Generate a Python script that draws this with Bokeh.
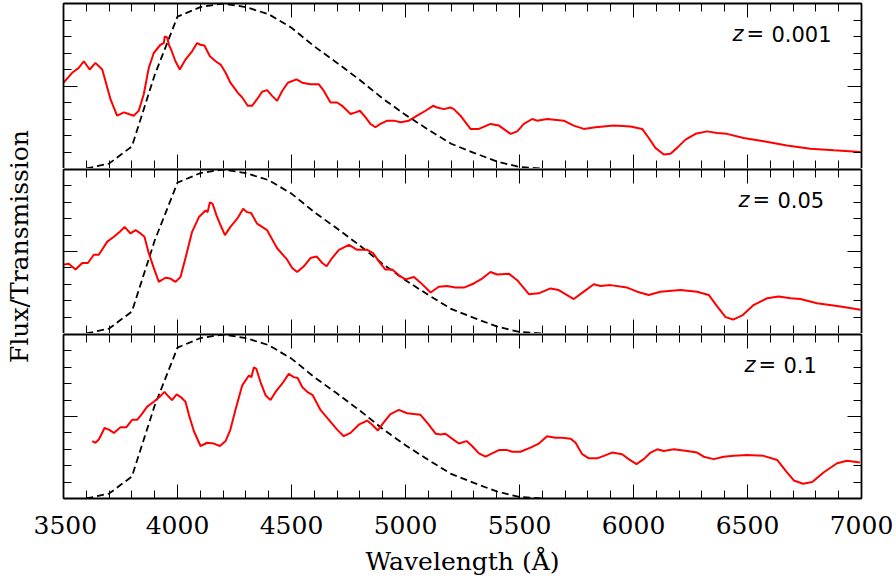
from bokeh.plotting import figure
from bokeh.models import Range1d, LinearAxis, SingleIntervalTicker
from bokeh.layouts import column, row
from bokeh.embed import file_html
from bokeh.resources import INLINE
from bokeh.core.properties import value

# ---- filter transmission (B band) ----
filter_wave = [3600, 3700, 3800, 3900, 4000, 4100, 4200, 4300, 4400, 4500, 4600,
               4700, 4800, 4900, 5000, 5100, 5200, 5300, 5400, 5500, 5600]
filter_trans = [0.0, 0.03, 0.134, 0.567, 0.92, 0.978, 1.0, 0.978, 0.935, 0.853, 0.74,
                0.64, 0.536, 0.424, 0.325, 0.235, 0.15, 0.095, 0.043, 0.009, 0.0]

# ---- spectrum, z = 0.001 ----
wave_z0001 = [3500, 3538, 3567, 3589, 3615, 3640, 3670, 3684, 3706, 3735,
              3765, 3786, 3808, 3830, 3852, 3874, 3896, 3925, 3940, 3944,
              3955, 3962, 3972, 3991, 4010, 4035, 4064, 4086, 4101, 4118,
              4142, 4167, 4189, 4211, 4232, 4264, 4284, 4308, 4327, 4349,
              4371, 4393, 4415, 4437, 4459, 4484, 4522, 4547, 4583, 4620,
              4642, 4671, 4700, 4722, 4759, 4781, 4800, 4825, 4846, 4868,
              4890, 4920, 4949, 4978, 5015, 5051, 5088, 5121, 5139, 5168,
              5197, 5212, 5241, 5285, 5322, 5373, 5410, 5461, 5490, 5519,
              5556, 5577, 5621, 5694, 5738, 5782, 5833, 5914, 5987, 6038,
              6067, 6096, 6133, 6162, 6191, 6228, 6272, 6323, 6367, 6410,
              6483, 6571, 6673, 6776, 6879, 6996]
flux_z0001 = [0.52, 0.58, 0.61, 0.65, 0.60, 0.64, 0.60, 0.53, 0.42, 0.32,
              0.34, 0.33, 0.32, 0.35, 0.45, 0.61, 0.70, 0.75, 0.76, 0.80,
              0.795, 0.75, 0.72, 0.65, 0.60, 0.66, 0.71, 0.76, 0.75, 0.745,
              0.68, 0.65, 0.63, 0.58, 0.52, 0.46, 0.43, 0.38, 0.38, 0.42,
              0.465, 0.475, 0.44, 0.41, 0.47, 0.52, 0.54, 0.52, 0.51, 0.51,
              0.47, 0.40, 0.40, 0.38, 0.33, 0.34, 0.35, 0.31, 0.27, 0.25,
              0.27, 0.29, 0.29, 0.28, 0.29, 0.32, 0.35, 0.38, 0.37, 0.36,
              0.37, 0.36, 0.32, 0.24, 0.24, 0.27, 0.26, 0.21, 0.225, 0.27,
              0.30, 0.29, 0.30, 0.29, 0.26, 0.24, 0.25, 0.26, 0.255, 0.24,
              0.185, 0.125, 0.085, 0.09, 0.125, 0.175, 0.21, 0.225, 0.215, 0.21,
              0.185, 0.165, 0.14, 0.12, 0.11, 0.10]

# ---- spectrum, z = 0.05 ----
wave_z005 = [3500, 3523, 3553, 3582, 3607, 3633, 3655, 3692, 3721, 3747,
             3768, 3794, 3816, 3838, 3855, 3874, 3896, 3918, 3947, 3969,
             3991, 4013, 4035, 4064, 4094, 4123, 4132, 4142, 4154, 4171,
             4189, 4208, 4232, 4262, 4288, 4305, 4323, 4349, 4371, 4393,
             4437, 4481, 4503, 4525, 4554, 4583, 4610, 4635, 4654, 4678,
             4708, 4752, 4788, 4832, 4858, 4883, 4912, 4942, 4971, 5000,
             5037, 5066, 5110, 5146, 5183, 5219, 5256, 5300, 5336, 5373,
             5402, 5453, 5490, 5541, 5584, 5636, 5672, 5738, 5782, 5826,
             5855, 5899, 5972, 6016, 6067, 6118, 6206, 6279, 6330, 6367,
             6404, 6437, 6477, 6528, 6586, 6637, 6689, 6732, 6805, 6908,
             6996]
flux_z005 = [0.42, 0.425, 0.39, 0.43, 0.43, 0.48, 0.48, 0.56, 0.59, 0.62,
             0.65, 0.61, 0.63, 0.61, 0.59, 0.49, 0.40, 0.315, 0.34, 0.335,
             0.315, 0.345, 0.46, 0.62, 0.71, 0.75, 0.74, 0.80, 0.79, 0.72,
             0.66, 0.60, 0.65, 0.70, 0.76, 0.74, 0.735, 0.67, 0.65, 0.63,
             0.52, 0.45, 0.40, 0.375, 0.41, 0.46, 0.47, 0.43, 0.41, 0.46,
             0.51, 0.54, 0.51, 0.51, 0.49, 0.44, 0.39, 0.39, 0.355, 0.33,
             0.345, 0.31, 0.25, 0.285, 0.29, 0.28, 0.28, 0.305, 0.335, 0.375,
             0.36, 0.365, 0.325, 0.24, 0.245, 0.275, 0.265, 0.21, 0.255, 0.30,
             0.29, 0.295, 0.28, 0.255, 0.235, 0.255, 0.265, 0.255, 0.235, 0.165,
             0.10, 0.085, 0.11, 0.175, 0.215, 0.225, 0.215, 0.21, 0.185, 0.165,
             0.145]

# ---- spectrum, z = 0.1 ----
wave_z01 = [3626, 3640, 3655, 3680, 3699, 3721, 3750, 3776, 3801, 3823,
            3841, 3867, 3896, 3922, 3943, 3962, 3976, 3996, 4013, 4035,
            4050, 4072, 4101, 4130, 4159, 4186, 4211, 4232, 4254, 4284,
            4313, 4324, 4335, 4346, 4364, 4386, 4408, 4430, 4459, 4488,
            4510, 4527, 4547, 4569, 4593, 4627, 4664, 4700, 4729, 4759,
            4795, 4832, 4854, 4879, 4902, 4934, 4971, 5007, 5066, 5102,
            5132, 5154, 5175, 5204, 5234, 5268, 5292, 5322, 5351, 5373,
            5410, 5446, 5468, 5504, 5548, 5585, 5621, 5658, 5687, 5724,
            5746, 5775, 5804, 5840, 5870, 5906, 5950, 5979, 6013, 6045,
            6075, 6104, 6133, 6177, 6235, 6279, 6308, 6352, 6396, 6440,
            6498, 6571, 6630, 6667, 6703, 6744, 6784, 6835, 6893, 6937,
            6993]
flux_z01 = [0.35, 0.34, 0.36, 0.43, 0.42, 0.40, 0.435, 0.435, 0.48, 0.48,
            0.51, 0.56, 0.59, 0.62, 0.65, 0.62, 0.60, 0.635, 0.62, 0.59,
            0.51, 0.41, 0.32, 0.34, 0.335, 0.32, 0.35, 0.42, 0.54, 0.69,
            0.75, 0.74, 0.80, 0.79, 0.71, 0.63, 0.60, 0.65, 0.70, 0.76,
            0.74, 0.735, 0.68, 0.65, 0.63, 0.54, 0.48, 0.42, 0.38, 0.40,
            0.45, 0.475, 0.45, 0.415, 0.46, 0.515, 0.54, 0.52, 0.51, 0.45,
            0.395, 0.39, 0.395, 0.365, 0.335, 0.35, 0.32, 0.275, 0.255, 0.27,
            0.295, 0.295, 0.285, 0.285, 0.31, 0.335, 0.38, 0.37, 0.37, 0.365,
            0.34, 0.27, 0.245, 0.245, 0.26, 0.28, 0.27, 0.24, 0.21, 0.24,
            0.28, 0.30, 0.29, 0.30, 0.29, 0.28, 0.255, 0.24, 0.255, 0.26,
            0.265, 0.26, 0.235, 0.17, 0.11, 0.09, 0.10, 0.16, 0.215, 0.23,
            0.22]

redshift_labels = ["0.001", "0.05", "0.1"]
x_ticks_interval = 500
x_label = "Wavelength (Å)"
y_label = "Flux/Transmission"

SERIF = "DejaVu Serif"
SANS = "DejaVu Sans"
FRAME_LW = 1.8

x_range = Range1d(3500, 7000)


def style_axis(ax, interval, labels=False, rule=True):
    ax.ticker = SingleIntervalTicker(interval=interval, num_minor_ticks=5)
    ax.major_tick_in = 14
    ax.major_tick_out = 0
    ax.minor_tick_in = 8
    ax.minor_tick_out = 0
    ax.major_tick_line_color = "black"
    ax.minor_tick_line_color = "black"
    ax.major_tick_line_width = 1
    ax.minor_tick_line_width = 1
    ax.axis_line_color = "black" if rule else None
    ax.axis_line_width = FRAME_LW
    if labels:
        ax.major_label_text_font = SERIF
        ax.major_label_text_font_size = "25px"
        ax.major_label_text_color = "black"
        ax.major_label_standoff = 17
    else:
        ax.major_label_text_color = None
        ax.major_label_text_alpha = 0
        ax.major_label_text_font_size = "1px"
        ax.major_label_standoff = 0
        ax.axis_label_standoff = 0


def make_panel(wave, flux, zlabel, label_left, frame_h, border_top,
               border_bottom, bottom_labels=False):
    p = figure(frame_width=798, frame_height=frame_h, x_range=x_range,
               y_range=Range1d(0, 1), x_axis_type=None, y_axis_type=None,
               output_backend="svg", toolbar_location=None,
               min_border_left=30, min_border_right=35,
               min_border_top=border_top, min_border_bottom=border_bottom)
    p.background_fill_color = "white"
    p.border_fill_color = "white"
    p.outline_line_color = None

    bottom = LinearAxis()
    style_axis(bottom, x_ticks_interval, labels=bottom_labels,
               rule=bottom_labels)
    if bottom_labels:
        bottom.axis_label = x_label
        bottom.axis_label_text_font = SERIF
        bottom.axis_label_text_font_size = "25px"
        bottom.axis_label_text_font_style = "normal"
        bottom.axis_label_text_color = "black"
        bottom.axis_label_standoff = 10
    top = LinearAxis()
    style_axis(top, x_ticks_interval)
    left = LinearAxis()
    style_axis(left, 0.5)
    right = LinearAxis()
    style_axis(right, 0.5)
    p.add_layout(bottom, "below")
    p.add_layout(top, "above")
    p.add_layout(left, "left")
    p.add_layout(right, "right")

    p.line(filter_wave, filter_trans, line_color="black", line_width=1.8,
           line_dash="7 4")
    p.line(wave, flux, line_color="#ff0000", line_width=2)

    anchor_x = [6640]
    anchor_y = [0.815]
    common = dict(text_font=value(SANS), text_font_size="21px",
                  text_align="left", text_baseline="middle",
                  text_color="black")
    p.text(x=anchor_x, y=anchor_y, text=["z"], x_offset=label_left,
           text_font_style="italic", **common)
    p.text(x=anchor_x, y=anchor_y, text=["="], x_offset=label_left + 14,
           **common)
    p.text(x=anchor_x, y=anchor_y, text=[zlabel], x_offset=label_left + 39,
           **common)
    return p


# y-axis title, shared by the three panels
title_fig = figure(width=33, height=584, x_range=Range1d(0, 33),
                   y_range=Range1d(0, 584), x_axis_type=None, y_axis_type=None,
                   output_backend="svg", toolbar_location=None, min_border=0)
title_fig.outline_line_color = None
title_fig.background_fill_color = "white"
title_fig.border_fill_color = "white"
title_fig.text(x=[18.5], y=[338], text=[y_label], angle=90, angle_units="deg",
               text_font=value(SERIF), text_font_size="25px",
               text_align="center", text_baseline="middle",
               text_color="black")

p1 = make_panel(wave_z0001, flux_z0001, redshift_labels[0], -47, 165, 3, 0)
p2 = make_panel(wave_z005, flux_z005, redshift_labels[1], -41, 164, 1, 0)
p3 = make_panel(wave_z01, flux_z01, redshift_labels[2], -35, 164, 1, 86,
                bottom_labels=True)

layout = row(title_fig, column(p1, p2, p3, spacing=0), spacing=0)
open("out.html", "w").write(file_html(layout, INLINE))
